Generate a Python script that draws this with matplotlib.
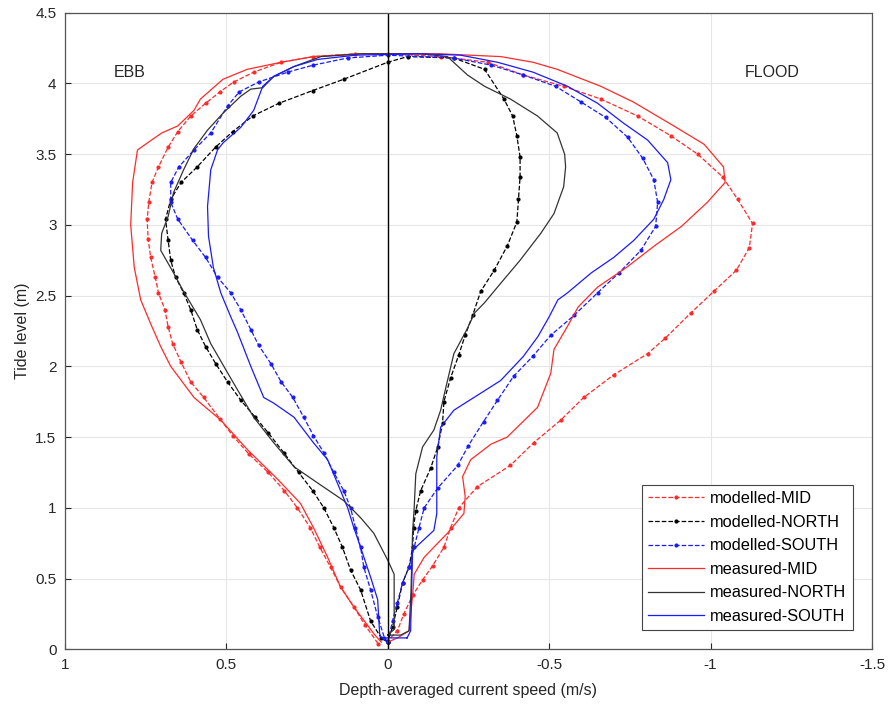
import matplotlib.pyplot as plt
import numpy as np

plt.rcParams['font.family'] = ['Liberation Sans', 'DejaVu Sans']
plt.rcParams['axes.unicode_minus'] = False

# Each series is traced as one loop: ebb side upward, then flood side downward
# (tide level in m, speed in m/s)
mod_mid_y = [0.04, 0.17, 0.30, 0.44, 0.58, 0.72, 0.86, 1.00, 1.12, 1.25, 1.38, 1.51, 1.63, 1.78, 1.89,
             2.03, 2.16, 2.28, 2.40, 2.52, 2.63, 2.77, 2.90, 3.04, 3.16, 3.30, 3.41, 3.55, 3.66, 3.77,
             3.86, 3.94, 4.01, 4.08, 4.15, 4.19, 4.21, 4.21,
             4.19, 4.15, 4.06, 3.98, 3.89, 3.77, 3.63, 3.50, 3.34, 3.18, 3.01, 2.84, 2.68, 2.53, 2.38,
             2.20, 2.09, 1.94, 1.78, 1.62, 1.46, 1.30, 1.15, 1.00, 0.86, 0.72, 0.59, 0.49, 0.38, 0.25,
             0.13, 0.06]
mod_mid_x = [0.03, 0.07, 0.105, 0.146, 0.177, 0.21, 0.24, 0.28, 0.32, 0.37, 0.43, 0.48, 0.52, 0.57, 0.61,
             0.64, 0.666, 0.68, 0.69, 0.71, 0.72, 0.734, 0.742, 0.745, 0.74, 0.73, 0.71, 0.68, 0.65, 0.61,
             0.564, 0.52, 0.477, 0.415, 0.33, 0.23, 0.10, 0.0,
             -0.164, -0.31, -0.42, -0.545, -0.66, -0.774, -0.877, -0.96, -1.037, -1.084, -1.13, -1.12,
             -1.08, -1.01, -0.94, -0.86, -0.805, -0.70, -0.607, -0.536, -0.452, -0.38, -0.278, -0.22,
             -0.195, -0.174, -0.139, -0.108, -0.077, -0.05, -0.03, 0.0]

mod_north_y = [0.05, 0.08, 0.20, 0.42, 0.56, 0.72, 0.86, 1.00, 1.12, 1.25, 1.39, 1.53, 1.64, 1.76, 1.89,
               2.02, 2.14, 2.26, 2.40, 2.52, 2.63, 2.75, 2.89, 3.04, 3.18, 3.30, 3.41, 3.55, 3.66, 3.77,
               3.86, 3.95, 4.03, 4.15, 4.19,
               4.18, 4.10, 3.89, 3.77, 3.63, 3.48, 3.34, 3.18, 3.02, 2.85, 2.68, 2.53, 2.36, 2.22, 2.08,
               1.92, 1.75, 1.60, 1.43, 1.28, 1.12, 0.98, 0.86, 0.72, 0.58, 0.47, 0.30, 0.16, 0.05]
mod_north_x = [0.0, 0.02, 0.053, 0.084, 0.115, 0.14, 0.167, 0.198, 0.232, 0.276, 0.322, 0.37, 0.41, 0.455,
               0.496, 0.533, 0.564, 0.59, 0.61, 0.632, 0.657, 0.672, 0.68, 0.688, 0.672, 0.64, 0.59, 0.533,
               0.48, 0.418, 0.337, 0.232, 0.136, 0.0, -0.062,
               -0.205, -0.30, -0.36, -0.387, -0.40, -0.41, -0.41, -0.405, -0.40, -0.37, -0.33, -0.288,
               -0.263, -0.24, -0.22, -0.195, -0.174, -0.17, -0.155, -0.133, -0.102, -0.087, -0.08,
               -0.077, -0.066, -0.046, -0.03, -0.015, 0.0]

mod_south_y = [0.05, 0.08, 0.23, 0.42, 0.58, 0.72, 0.86, 1.00, 1.12, 1.25, 1.39, 1.51, 1.64, 1.78, 1.89,
               2.02, 2.15, 2.26, 2.40, 2.52, 2.63, 2.77, 2.89, 3.04, 3.16, 3.30, 3.41, 3.53, 3.65, 3.84,
               3.94, 4.01, 4.08, 4.13, 4.18, 4.20,
               4.18, 4.13, 4.06, 3.98, 3.87, 3.76, 3.62, 3.47, 3.32, 3.16, 2.99, 2.82, 2.66, 2.52, 2.36,
               2.22, 2.07, 1.93, 1.76, 1.61, 1.44, 1.30, 1.14, 1.00, 0.86, 0.72, 0.58, 0.47, 0.33, 0.20,
               0.05]
mod_south_x = [0.0, 0.01, 0.031, 0.053, 0.074, 0.084, 0.10, 0.115, 0.136, 0.167, 0.198, 0.23, 0.26, 0.294,
               0.33, 0.362, 0.40, 0.424, 0.455, 0.486, 0.527, 0.564, 0.604, 0.65, 0.672, 0.672, 0.647,
               0.60, 0.548, 0.496, 0.46, 0.40, 0.31, 0.23, 0.124, 0.0,
               -0.205, -0.32, -0.42, -0.52, -0.598, -0.675, -0.743, -0.79, -0.824, -0.836, -0.83, -0.784,
               -0.716, -0.65, -0.577, -0.505, -0.449, -0.39, -0.34, -0.297, -0.25, -0.217, -0.155,
               -0.113, -0.097, -0.082, -0.066, -0.046, -0.03, -0.015, 0.0]

meas_mid_y = [0.05, 0.11, 0.30, 0.44, 0.65, 0.86, 1.03, 1.20, 1.41, 1.62, 1.78, 2.00, 2.14, 2.30, 2.47,
              2.70, 3.00, 3.30, 3.53, 3.65, 3.70, 3.81, 3.89, 4.03, 4.10, 4.15, 4.19, 4.21, 4.21,
              4.21, 4.19, 4.15, 4.10, 3.98, 3.87, 3.70, 3.57, 3.41, 3.30, 3.16, 2.99, 2.85, 2.70, 2.56,
              2.42, 2.28, 2.12, 1.95, 1.71, 1.50, 1.45, 1.34, 1.22, 1.08, 0.96, 0.82, 0.75, 0.65, 0.53,
              0.40, 0.13, 0.08, 0.05]
meas_mid_x = [0.02, 0.043, 0.105, 0.146, 0.186, 0.23, 0.27, 0.34, 0.434, 0.517, 0.60, 0.672, 0.703, 0.734,
              0.765, 0.785, 0.796, 0.79, 0.775, 0.70, 0.65, 0.60, 0.58, 0.51, 0.435, 0.33, 0.23, 0.08, -0.05,
              -0.16, -0.35, -0.45, -0.525, -0.66, -0.76, -0.886, -0.98, -1.04, -1.045, -0.99, -0.91,
              -0.825, -0.74, -0.65, -0.59, -0.556, -0.515, -0.505, -0.464, -0.37, -0.32, -0.257, -0.232,
              -0.24, -0.236, -0.185, -0.155, -0.113, -0.082, -0.078, -0.066, -0.03, 0.0]

meas_north_y = [0.10, 0.14, 0.53, 0.63, 0.82, 0.93, 1.05, 1.16, 1.29, 1.46, 1.64, 1.88, 2.16, 2.33, 2.52,
                2.66, 2.82, 2.94, 3.06, 3.23, 3.39, 3.54, 3.67, 3.79, 3.91, 3.96, 3.97, 4.05, 4.12, 4.19,
                4.21, 4.21,
                4.19, 4.06, 3.98, 3.89, 3.77, 3.65, 3.50, 3.41, 3.27, 3.08, 2.94, 2.75, 2.56, 2.45, 2.38,
                2.26, 2.09, 1.85, 1.69, 1.55, 1.43, 1.24, 1.00, 0.82, 0.40, 0.13, 0.10, 0.10]
meas_north_x = [0.0, -0.02, -0.02, 0.0, 0.043, 0.084, 0.136, 0.207, 0.29, 0.353, 0.415, 0.477, 0.548, 0.58,
                0.63, 0.663, 0.703, 0.70, 0.68, 0.663, 0.632, 0.60, 0.558, 0.51, 0.455, 0.424, 0.387,
                0.353, 0.29, 0.207, 0.08, -0.10,
                -0.185, -0.247, -0.30, -0.38, -0.464, -0.525, -0.548, -0.551, -0.545, -0.515, -0.474,
                -0.41, -0.34, -0.30, -0.27, -0.245, -0.205, -0.18, -0.164, -0.143, -0.108, -0.087,
                -0.082, -0.077, -0.072, -0.066, -0.04, 0.0]

meas_south_y = [0.08, 0.08, 0.11, 0.35, 0.51, 0.72, 0.86, 1.00, 1.17, 1.34, 1.46, 1.64, 1.74, 1.78, 2.00,
                2.24, 2.35, 2.47, 2.52, 2.70, 2.92, 3.13, 3.39, 3.53, 3.58, 3.69, 3.81, 3.98, 4.05, 4.12,
                4.17, 4.20, 4.21,
                4.20, 4.15, 4.08, 3.98, 3.86, 3.72, 3.60, 3.44, 3.32, 3.18, 3.04, 2.89, 2.77, 2.66, 2.52,
                2.47, 2.35, 2.21, 2.07, 1.90, 1.81, 1.69, 1.57, 1.36, 0.96, 0.84, 0.70, 0.13, 0.08]
meas_south_x = [-0.06, 0.02, 0.025, 0.031, 0.053, 0.084, 0.105, 0.124, 0.155, 0.186, 0.23, 0.29, 0.353,
                0.384, 0.424, 0.465, 0.486, 0.508, 0.517, 0.54, 0.555, 0.558, 0.548, 0.527, 0.51, 0.455,
                0.415, 0.387, 0.353, 0.29, 0.217, 0.10, -0.10,
                -0.226, -0.34, -0.45, -0.557, -0.65, -0.73, -0.805, -0.867, -0.877, -0.855, -0.824,
                -0.762, -0.70, -0.63, -0.557, -0.527, -0.50, -0.465, -0.42, -0.35, -0.288, -0.205,
                -0.164, -0.152, -0.152, -0.143, -0.077, -0.071, -0.06]

fig = plt.figure(figsize=(8.88, 7.08), dpi=100)
ax = fig.add_axes([0.073, 0.083, 0.909, 0.899])

red = '#ff2a2a'
blue = '#1a1aff'
dark = '#333333'

ax.plot(mod_mid_x, mod_mid_y, '--', color=red, marker='.', markersize=4, linewidth=0.9, label='modelled-MID')
ax.plot(mod_north_x, mod_north_y, '--', color='black', marker='.', markersize=4, linewidth=0.9, label='modelled-NORTH')
ax.plot(mod_south_x, mod_south_y, '--', color=blue, marker='.', markersize=4, linewidth=0.9, label='modelled-SOUTH')
ax.plot(meas_mid_x, meas_mid_y, '-', color=red, linewidth=0.9, label='measured-MID')
ax.plot(meas_north_x, meas_north_y, '-', color=dark, linewidth=0.9, label='measured-NORTH')
ax.plot(meas_south_x, meas_south_y, '-', color=blue, linewidth=0.9, label='measured-SOUTH')

ax.axvline(0, color='black', linewidth=1)

ax.set_xlim(1, -1.5)
ax.set_ylim(0, 4.5)
ax.set_xticks([1, 0.5, 0, -0.5, -1, -1.5])
ax.set_xticklabels(['1', '0.5', '0', '-0.5', '-1', '-1.5'])
ax.set_yticks(np.arange(0, 4.51, 0.5))
ax.set_yticklabels(['0', '0.5', '1', '1.5', '2', '2.5', '3', '3.5', '4', '4.5'])
ax.tick_params(direction='in', length=4, labelsize=11, colors='#262626', pad=6)
ax.grid(True, color='#e6e6e6', linewidth=0.8)
ax.set_axisbelow(True)
for s in ax.spines.values():
    s.set_color('#555555')
    s.set_linewidth(0.9)

ax.set_xlabel('Depth-averaged current speed (m/s)', fontsize=11.5, color='#262626', labelpad=8)
ax.set_ylabel('Tide level (m)', fontsize=11.5, color='#262626')

ax.text(0.8, 4.08, 'EBB', fontsize=11.5, ha='center', va='center', color='#262626')
ax.text(-1.19, 4.08, 'FLOOD', fontsize=11.5, ha='center', va='center', color='#262626')

leg = ax.legend(loc='lower right', fontsize=11.8, handlelength=3.4, numpoints=1, fancybox=False,
                edgecolor='#444444', framealpha=1, borderaxespad=1.15, labelspacing=0.52,
                handletextpad=0.4, borderpad=0.4)
leg.get_frame().set_linewidth(0.8)

plt.savefig('out.png', dpi=100)
